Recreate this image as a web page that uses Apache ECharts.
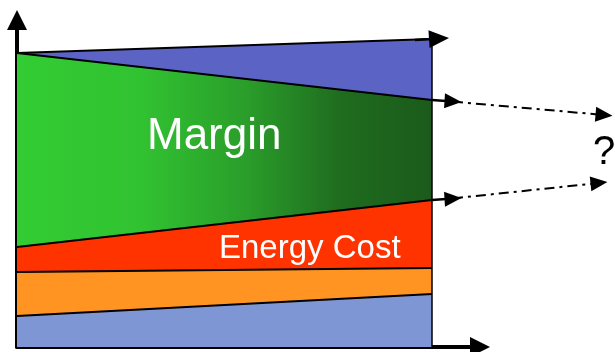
<!DOCTYPE html>
<html>
<head>
<meta charset="utf-8">
<script src="https://cdn.jsdelivr.net/npm/echarts@6/dist/echarts.min.js"></script>
<style>
  html, body { margin: 0; padding: 0; background: #fff; }
  #main { width: 615px; height: 352px; }
</style>
</head>
<body>
<div id="main"></div>
<script>
// x positions of the block's left and right edge
var xs = [0, 415];
// layer thicknesses, bottom to top
var baseLayer = [31, 53];
var orangeLayer = [44, 26];
var energyCost = [25, 68];
var margin = [194, 100];
var topLayer = [0, 61];
// arrow ends on the right: [from, to]
var topArrow = [[398, 307], [422, 308.5]];
var marginArrow = [[415, 247], [436, 245.6]];
var costArrow = [[415, 147], [436, 148.4]];
var marginFuture = [[436, 245.4], [587, 232]];
var costFuture = [[436, 148.6], [582, 164]];
var edgeLine = [[415, 0], [415, 308]];

var chart = echarts.init(document.getElementById('main'));

// running totals, bottom layer first
var layers = [
  { name: 'base', vals: baseLayer, color: '#7f96d4' },
  { name: 'other', vals: orangeLayer, color: '#ff9422' },
  { name: 'Energy Cost', vals: energyCost, color: '#ff3300' },
  { name: 'Margin', vals: margin, color: new echarts.graphic.LinearGradient(0, 0, 1, 0, [
      { offset: 0, color: '#33cc33' },
      { offset: 0.3, color: '#31c231' },
      { offset: 0.55, color: '#2a9e2a' },
      { offset: 0.78, color: '#1f6c1f' },
      { offset: 1, color: '#1b5a1b' }
    ]) },
  { name: 'top', vals: topLayer, color: '#5b63c4' }
];
var run = xs.map(function () { return 0; });
layers.forEach(function (l) {
  run = run.map(function (v, i) { return v + l.vals[i]; });
  l.total = run.slice();
});

// draw the highest boundary first so lower layers paint over it
var areaSeries = layers.slice().reverse().map(function (l) {
  return {
    name: l.name,
    type: 'line',
    data: xs.map(function (x, i) { return [x, l.total[i]]; }),
    symbol: 'none',
    lineStyle: { color: '#000', width: 2 },
    areaStyle: { color: l.color, opacity: 1 },
    z: 2
  };
});

var arrowStyle = { color: '#000', width: 2.5, type: 'solid' };
var dashDot = { color: '#000', width: 2, type: [10, 5, 3, 5] };
var hiddenAxis = {
  type: 'value', gridIndex: 1, show: false,
  axisLine: { show: false }, axisTick: { show: false }, axisLabel: { show: false }, splitLine: { show: false }
};

var option = {
  animation: false,
  grid: [
    { left: 17, right: 135, top: 20, bottom: 5 },
    { left: 17, right: 0, top: 20, bottom: 5 }
  ],
  xAxis: [{
    type: 'value', min: 0, max: 463,
    axisLine: { show: true, onZero: false, symbol: ['none', 'triangle'], symbolSize: [20, 20],
      lineStyle: { color: '#000', width: 4 } },
    axisTick: { show: false }, axisLabel: { show: false }, splitLine: { show: false }
  }, Object.assign({}, hiddenAxis, { min: 0, max: 598 })],
  yAxis: [{
    type: 'value', min: 0, max: 327,
    axisLine: { show: true, onZero: false, symbol: ['none', 'triangle'], symbolSize: [20, 20],
      lineStyle: { color: '#000', width: 4 } },
    axisTick: { show: false }, axisLabel: { show: false }, splitLine: { show: false }
  }, Object.assign({}, hiddenAxis, { min: 0, max: 327 })],
  series: areaSeries.concat([
    {
      name: 'edge',
      type: 'line',
      data: edgeLine,
      symbol: 'none',
      lineStyle: { color: '#000', width: 1.5 },
      z: 3,
      markLine: {
        silent: true,
        symbol: ['none', 'triangle'],
        symbolSize: [15, 17],
        label: { show: false },
        data: [
          [{ coord: topArrow[0], lineStyle: arrowStyle, symbolSize: [18, 20] }, { coord: topArrow[1], symbolSize: [18, 20] }],
          [{ coord: marginArrow[0], lineStyle: arrowStyle }, { coord: marginArrow[1] }],
          [{ coord: costArrow[0], lineStyle: arrowStyle }, { coord: costArrow[1] }]
        ]
      }
    },
    {
      name: 'future',
      type: 'line',
      xAxisIndex: 1,
      yAxisIndex: 1,
      data: [],
      symbol: 'none',
      z: 3,
      markLine: {
        silent: true,
        symbol: ['none', 'triangle'],
        symbolSize: [15, 17],
        label: { show: false },
        data: [
          [{ coord: marginFuture[0], lineStyle: dashDot }, { coord: marginFuture[1] }],
          [{ coord: costFuture[0], lineStyle: dashDot }, { coord: costFuture[1] }]
        ]
      }
    }
  ]),
  graphic: [
    { type: 'text', left: 147, top: 115, z: 10,
      style: { text: 'Margin', fill: '#fff', font: '44px "Liberation Sans", Arial, sans-serif' } },
    { type: 'text', left: 219, top: 232, z: 10,
      style: { text: 'Energy Cost', fill: '#fff', font: '33px "Liberation Sans", Arial, sans-serif' } },
    { type: 'text', left: 593, top: 133, z: 10,
      style: { text: '?', fill: '#000', font: '40px "Liberation Sans", Arial, sans-serif' } }
  ]
};
chart.setOption(option);
</script>
</body>
</html>
